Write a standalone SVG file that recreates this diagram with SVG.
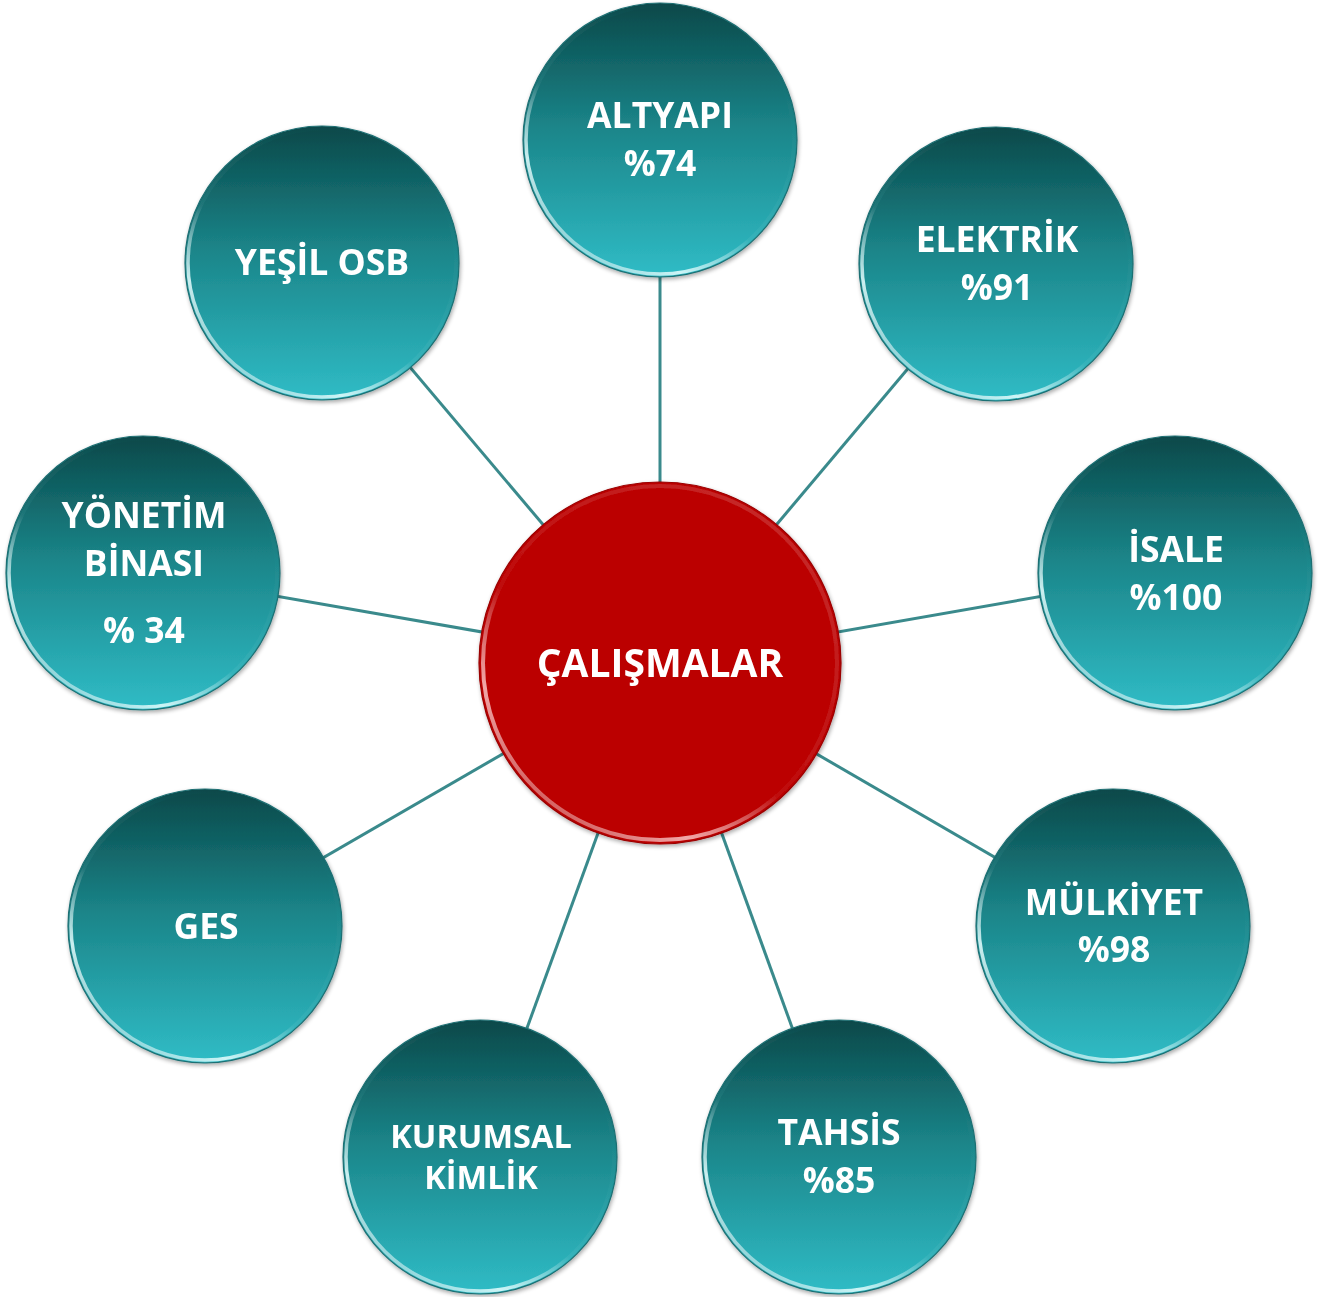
<svg xmlns="http://www.w3.org/2000/svg" width="1327" height="1297" viewBox="0 0 1327 1297">
<defs>
<linearGradient id="teal" x1="0" y1="0" x2="0" y2="1">
<stop offset="0" stop-color="#094849"/>
<stop offset="0.45" stop-color="#1b8589"/>
<stop offset="1" stop-color="#30bcc6"/>
</linearGradient>
<linearGradient id="rimT" x1="0.8" y1="0.1" x2="0.2" y2="0.9">
<stop offset="0" stop-color="#ffffff" stop-opacity="0"/>
<stop offset="0.6" stop-color="#ffffff" stop-opacity="0.05"/>
<stop offset="0.85" stop-color="#e8ffff" stop-opacity="0.85"/>
<stop offset="1" stop-color="#ffffff" stop-opacity="0.5"/>
</linearGradient>
<linearGradient id="rimR" x1="0.8" y1="0.1" x2="0.2" y2="0.9">
<stop offset="0" stop-color="#ffffff" stop-opacity="0.15"/>
<stop offset="0.6" stop-color="#ffffff" stop-opacity="0.05"/>
<stop offset="0.85" stop-color="#ffd0d0" stop-opacity="0.8"/>
<stop offset="1" stop-color="#ffffff" stop-opacity="0.4"/>
</linearGradient>
<filter id="sh" x="-10%" y="-10%" width="120%" height="120%">
<feGaussianBlur in="SourceAlpha" stdDeviation="2"/>
<feOffset dx="1" dy="2" result="b"/>
<feComponentTransfer><feFuncA type="linear" slope="0.35"/></feComponentTransfer>
<feMerge><feMergeNode/><feMergeNode in="SourceGraphic"/></feMerge>
</filter>
</defs>
<style>
.c{fill:url(#teal);stroke:#1d6f73;stroke-width:1.2}
.r{fill:none;stroke:url(#rimT);stroke-width:3.5}
.t{font-family:"Open Sans","Liberation Sans",sans-serif;font-weight:bold;font-size:35.5px;fill:#ffffff;text-anchor:middle}
.k{stroke:#3a8a8c;stroke-width:3;fill:none}
</style>
<rect width="1327" height="1297" fill="#ffffff"/>
<g id="connectors">
<line class="k" x1="660" y1="663" x2="660" y2="140"/>
<line class="k" x1="660" y1="663" x2="996" y2="264"/>
<line class="k" x1="660" y1="663" x2="1175" y2="573"/>
<line class="k" x1="660" y1="663" x2="1113" y2="926"/>
<line class="k" x1="660" y1="663" x2="839" y2="1157"/>
<line class="k" x1="660" y1="663" x2="480" y2="1157"/>
<line class="k" x1="660" y1="663" x2="205" y2="926"/>
<line class="k" x1="660" y1="663" x2="143" y2="573"/>
<line class="k" x1="660" y1="663" x2="322" y2="263"/>
</g>
<g id="center" filter="url(#sh)">
<circle cx="660" cy="663" r="181" fill="#bb0000" stroke="#9a0000" stroke-width="1.2"/>
<circle cx="660" cy="663" r="177" fill="none" stroke="url(#rimR)" stroke-width="4"/>
<text class="t" x="660" y="677" style="font-size:39px">ÇALIŞMALAR</text>
</g>
<g id="altyapi" filter="url(#sh)">
<circle class="c" cx="660" cy="140" r="137"/><circle class="r" cx="660" cy="140" r="134"/>
<text class="t" x="660" y="128">ALTYAPI</text><text class="t" x="660" y="176">%74</text>
</g>
<g id="elektrik" filter="url(#sh)">
<circle class="c" cx="996" cy="264" r="137"/><circle class="r" cx="996" cy="264" r="134"/>
<text class="t" x="997" y="252">ELEKTRİK</text><text class="t" x="997" y="300">%91</text>
</g>
<g id="isale" filter="url(#sh)">
<circle class="c" cx="1175" cy="573" r="137"/><circle class="r" cx="1175" cy="573" r="134"/>
<text class="t" x="1176" y="562">İSALE</text><text class="t" x="1176" y="610">%100</text>
</g>
<g id="mulkiyet" filter="url(#sh)">
<circle class="c" cx="1113" cy="926" r="137"/><circle class="r" cx="1113" cy="926" r="134"/>
<text class="t" x="1114" y="915">MÜLKİYET</text><text class="t" x="1114" y="962">%98</text>
</g>
<g id="tahsis" filter="url(#sh)">
<circle class="c" cx="839" cy="1157" r="137"/><circle class="r" cx="839" cy="1157" r="134"/>
<text class="t" x="839" y="1145">TAHSİS</text><text class="t" x="839" y="1193">%85</text>
</g>
<g id="kurumsal" filter="url(#sh)">
<circle class="c" cx="480" cy="1157" r="137"/><circle class="r" cx="480" cy="1157" r="134"/>
<text class="t" x="481" y="1148" style="font-size:32.5px">KURUMSAL</text><text class="t" x="481" y="1189" style="font-size:32.5px">KİMLİK</text>
</g>
<g id="ges" filter="url(#sh)">
<circle class="c" cx="205" cy="926" r="137"/><circle class="r" cx="205" cy="926" r="134"/>
<text class="t" x="206" y="939">GES</text>
</g>
<g id="yonetim" filter="url(#sh)">
<circle class="c" cx="143" cy="573" r="137"/><circle class="r" cx="143" cy="573" r="134"/>
<text class="t" x="144" y="528">YÖNETİM</text><text class="t" x="144" y="576">BİNASI</text><text class="t" x="144" y="643">% 34</text>
</g>
<g id="yesil" filter="url(#sh)">
<circle class="c" cx="322" cy="263" r="137"/><circle class="r" cx="322" cy="263" r="134"/>
<text class="t" x="322" y="275">YEŞİL OSB</text>
</g>
</svg>
